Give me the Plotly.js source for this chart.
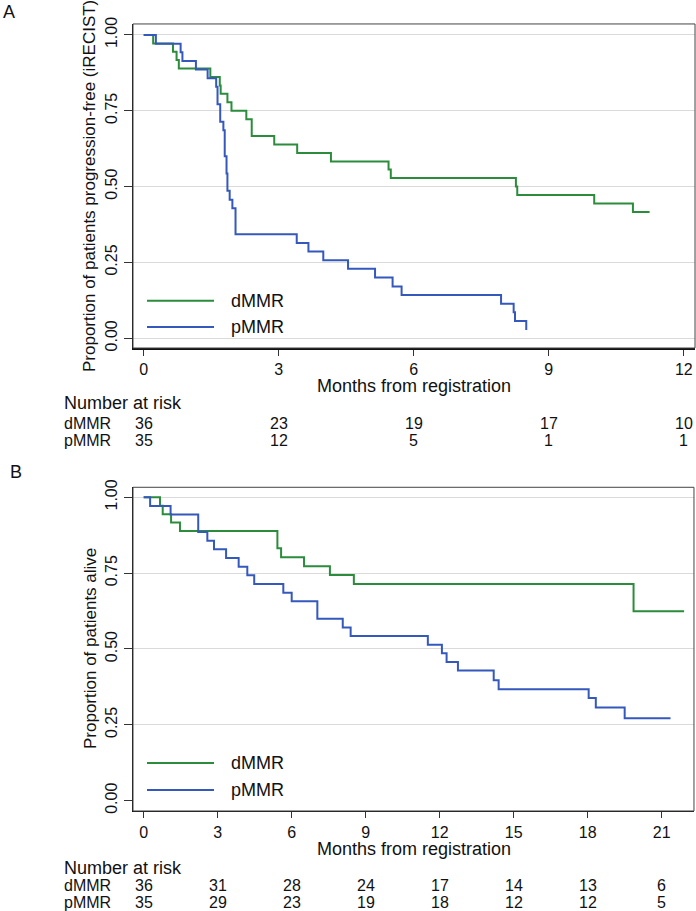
<!DOCTYPE html>
<html>
<head>
<meta charset="utf-8">
<script src="https://cdn.plot.ly/plotly-3.0.1.min.js"></script>
<style>
  body { margin: 0; background: #fff; }
  #km-plot { width: 696px; height: 911px; }
</style>
</head>
<body>
<div id="km-plot"></div>
<script>
// Panel A: progression-free (iRECIST), step curves
var pfsDmmrTime = [0, 0.21, 0.65, 0.73, 0.78, 1.48, 1.69, 1.71, 1.86, 1.95, 2.28, 2.40, 2.90, 3.41, 4.16, 5.44, 5.49, 8.27, 8.30, 10.01, 10.87, 11.24];
var pfsDmmrSurv = [1, 0.972, 0.944, 0.917, 0.889, 0.861, 0.833, 0.806, 0.778, 0.750, 0.722, 0.667, 0.639, 0.611, 0.583, 0.556, 0.528, 0.500, 0.472, 0.444, 0.416, 0.416];

var pfsPmmrTime = [0, 0.27, 0.82, 0.86, 1.16, 1.42, 1.61, 1.64, 1.70, 1.77, 1.80, 1.84, 1.86, 1.91, 1.97, 2.04, 3.40, 3.66, 3.99, 4.54, 5.14, 5.53, 5.73, 7.94, 8.22, 8.25, 8.50];
var pfsPmmrSurv = [1, 0.971, 0.943, 0.914, 0.886, 0.857, 0.829, 0.771, 0.714, 0.686, 0.600, 0.543, 0.486, 0.457, 0.429, 0.343, 0.314, 0.286, 0.257, 0.229, 0.200, 0.171, 0.143, 0.114, 0.086, 0.057, 0.027];

// Panel B: overall survival
var osDmmrTime = [0, 0.66, 0.77, 1.11, 1.47, 5.42, 5.57, 6.50, 7.55, 8.52, 19.86, 21.91];
var osDmmrSurv = [1, 0.972, 0.944, 0.917, 0.889, 0.832, 0.802, 0.773, 0.744, 0.714, 0.624, 0.624];

var osPmmrTime = [0, 0.26, 1.09, 2.21, 2.58, 2.85, 3.34, 3.85, 4.20, 4.48, 5.66, 6.00, 7.04, 8.07, 8.39, 11.52, 12.09, 12.28, 12.74, 14.19, 14.39, 18.04, 18.33, 19.50, 21.36];
var osPmmrSurv = [1, 0.971, 0.943, 0.886, 0.857, 0.829, 0.800, 0.771, 0.743, 0.714, 0.685, 0.657, 0.600, 0.571, 0.543, 0.514, 0.486, 0.457, 0.429, 0.397, 0.367, 0.338, 0.307, 0.272, 0.272];

// number at risk tables
var riskTimesA = [0, 3, 6, 9, 12];
var riskDmmrA = [36, 23, 19, 17, 10];
var riskPmmrA = [35, 12, 5, 1, 1];

var riskTimesB = [0, 3, 6, 9, 12, 15, 18, 21];
var riskDmmrB = [36, 31, 28, 24, 17, 14, 13, 6];
var riskPmmrB = [35, 29, 23, 19, 18, 12, 12, 5];

var groupNames = ['dMMR', 'pMMR'];
var yTickVals = [0, 0.25, 0.5, 0.75, 1];

var GREEN = '#2b8c3b';
var BLUE = '#3558bd';
var FONT = 'Liberation Sans, Arial, Helvetica, sans-serif';
var H = 911, W = 696;

function py(pixelY) { return 1 - pixelY / H; }
function px(pixelX) { return pixelX / W; }

function stepTrace(x, y, color, xa, ya) {
  return {
    x: x, y: y, xaxis: xa, yaxis: ya,
    type: 'scatter', mode: 'lines',
    line: { shape: 'hv', color: color, width: 2 },
    hoverinfo: 'skip', showlegend: false
  };
}

function xAxis(range, domain, anchor, dtick) {
  return {
    domain: domain, range: range, anchor: anchor,
    tick0: 0, dtick: dtick, ticks: 'outside', ticklen: 6, tickwidth: 1, tickcolor: '#333',
    showgrid: false, zeroline: false,
    showline: true, linecolor: '#111', linewidth: 1.5,
    tickfont: { family: FONT, size: 16, color: '#111' },
    fixedrange: true
  };
}

function yAxis(range, domain, anchor) {
  return {
    domain: domain, range: range, anchor: anchor,
    tickvals: yTickVals, tickformat: '.2f', tickangle: -90,
    ticks: 'outside', ticklen: 8, tickwidth: 1, tickcolor: '#333',
    showgrid: true, gridcolor: '#dadada', gridwidth: 1,
    zeroline: false,
    showline: true, linecolor: '#111', linewidth: 1.5,
    tickfont: { family: FONT, size: 16, color: '#111' },
    fixedrange: true
  };
}

function riskTable(times, rowA, rowB, xref, headY, rowY1, rowY2) {
  var notes = [];
  notes.push({ text: 'Number at risk', x: px(62), y: py(headY), xref: 'paper', yref: 'paper',
    xanchor: 'left', yanchor: 'middle', showarrow: false, font: { family: FONT, size: 18, color: '#111' } });
  [rowA, rowB].forEach(function (row, r) {
    var yy = py(r === 0 ? rowY1 : rowY2);
    notes.push({ text: groupNames[r], x: px(62), y: yy, xref: 'paper', yref: 'paper',
      xanchor: 'left', yanchor: 'middle', showarrow: false, font: { family: FONT, size: 16, color: '#111' } });
    for (var i = 0; i < times.length; i++) {
      notes.push({ text: String(row[i]), x: times[i], y: yy, xref: xref, yref: 'paper',
        xanchor: 'center', yanchor: 'middle', showarrow: false, font: { family: FONT, size: 16, color: '#111' } });
    }
  });
  return notes;
}

function legendBits(top, y1, y2) {
  var shapes = [
    { type: 'rect', xref: 'paper', yref: 'paper', x0: px(136), x1: px(293), y0: py(top + 62), y1: py(top),
      fillcolor: '#fff', line: { width: 0 }, layer: 'between' },
    { type: 'line', xref: 'paper', yref: 'paper', x0: px(147), x1: px(214), y0: py(y1), y1: py(y1),
      line: { color: GREEN, width: 2 } },
    { type: 'line', xref: 'paper', yref: 'paper', x0: px(147), x1: px(214), y0: py(y2), y1: py(y2),
      line: { color: BLUE, width: 2 } }
  ];
  var notes = [y1, y2].map(function (yy, i) {
    return { text: groupNames[i], x: px(229), y: py(yy), xref: 'paper', yref: 'paper',
      xanchor: 'left', yanchor: 'middle', showarrow: false, font: { family: FONT, size: 18, color: '#111' } };
  });
  return { shapes: shapes, notes: notes };
}

function frame(xref, yref) {
  return { type: 'rect', xref: xref + ' domain', yref: yref + ' domain', x0: 0, x1: 1, y0: 0, y1: 1,
    line: { color: '#444', width: 1 }, layer: 'above' };
}

function drawKaplanMeier() {
  var plotData = [
    stepTrace(pfsDmmrTime, pfsDmmrSurv, GREEN, 'x', 'y'),
    stepTrace(pfsPmmrTime, pfsPmmrSurv, BLUE, 'x', 'y'),
    stepTrace(osDmmrTime, osDmmrSurv, GREEN, 'x2', 'y2'),
    stepTrace(osPmmrTime, osPmmrSurv, BLUE, 'x2', 'y2')
  ];

  var legA = legendBits(284, 300.7, 327);
  var legB = legendBits(747, 763, 790);

  var annotations = [
    { text: 'A', x: px(8.5), y: py(12), xref: 'paper', yref: 'paper', xanchor: 'center', yanchor: 'middle',
      showarrow: false, font: { family: FONT, size: 18, color: '#111' } },
    { text: 'B', x: px(16.3), y: py(471.7), xref: 'paper', yref: 'paper', xanchor: 'center', yanchor: 'middle',
      showarrow: false, font: { family: FONT, size: 18, color: '#111' } },
    { text: 'Months from registration', x: px(414), y: py(386), xref: 'paper', yref: 'paper',
      xanchor: 'center', yanchor: 'middle', showarrow: false, font: { family: FONT, size: 18, color: '#111' } },
    { text: 'Months from registration', x: px(414), y: py(849), xref: 'paper', yref: 'paper',
      xanchor: 'center', yanchor: 'middle', showarrow: false, font: { family: FONT, size: 18, color: '#111' } },
    { text: 'Proportion of patients progression-free (iRECIST)', x: px(90), y: py(186), xref: 'paper', yref: 'paper',
      xanchor: 'center', yanchor: 'middle', textangle: -90, showarrow: false, font: { family: FONT, size: 17, color: '#111' } },
    { text: 'Proportion of patients alive', x: px(90), y: py(649), xref: 'paper', yref: 'paper',
      xanchor: 'center', yanchor: 'middle', textangle: -90, showarrow: false, font: { family: FONT, size: 17, color: '#111' } }
  ]
    .concat(riskTable(riskTimesA, riskDmmrA, riskPmmrA, 'x', 403, 423, 441))
    .concat(riskTable(riskTimesB, riskDmmrB, riskPmmrB, 'x2', 867.7, 885.7, 902.7))
    .concat(legA.notes, legB.notes);

  var yB = yAxis([-0.034, 1.033], [0.1098, 0.4651], 'x2');
  // no grid line at 0.00 in panel B: hide it behind an invisible zero line
  yB.zeroline = true;
  yB.zerolinecolor = 'rgba(0,0,0,0)';

  var layout = {
    width: W, height: H,
    margin: { l: 0, r: 0, t: 0, b: 0 },
    paper_bgcolor: '#fff', plot_bgcolor: '#fff',
    showlegend: false,
    font: { family: FONT, color: '#111' },
    xaxis: xAxis([-0.238, 12.25], [0.1911, 0.9986], 'y', 3),
    yaxis: yAxis([-0.032, 1.036], [0.6180, 0.9737], 'x'),
    xaxis2: xAxis([-0.434, 22.31], [0.1911, 0.9971], 'y2', 3),
    yaxis2: yB,
    shapes: [frame('x', 'y'), frame('x2', 'y2')].concat(legA.shapes, legB.shapes),
    annotations: annotations
  };

  Plotly.newPlot('km-plot', plotData, layout, { displayModeBar: false, staticPlot: true });
}

document.addEventListener('DOMContentLoaded', drawKaplanMeier);
</script>
</body>
</html>
